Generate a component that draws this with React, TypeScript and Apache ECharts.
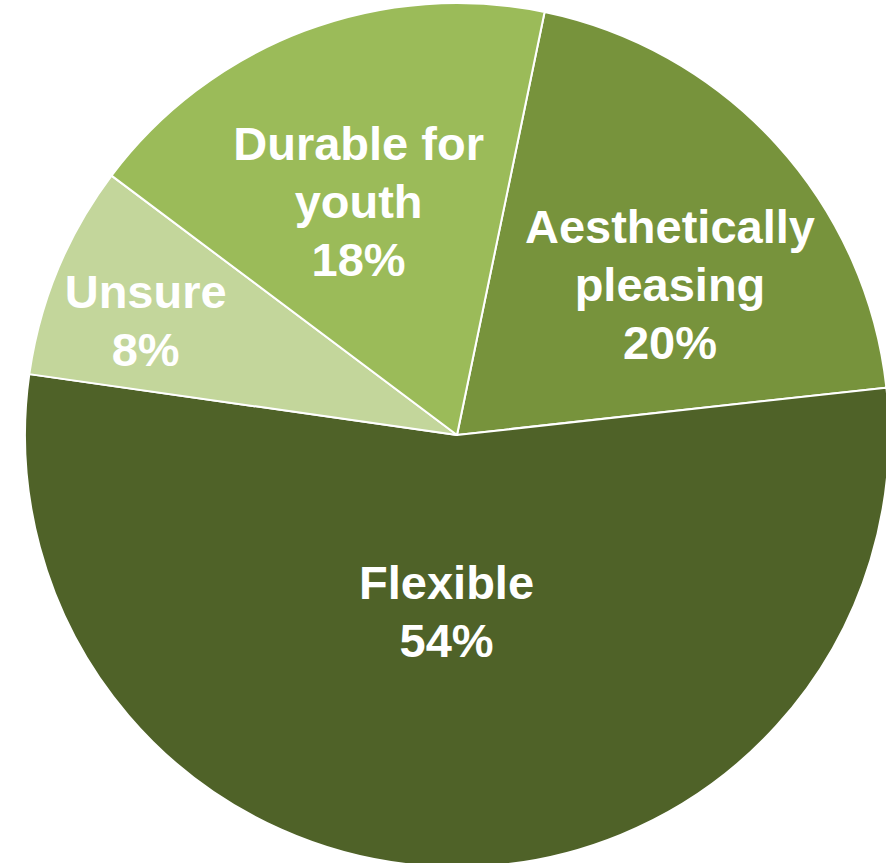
import React, { useEffect, useRef } from "react";
import * as echarts from "echarts";

const categories = ["Aesthetically\npleasing", "Flexible", "Unsure", "Durable for\nyouth"];
const values = [20, 54, 8, 18];
const colors = ["#77933C", "#4F6228", "#C3D69B", "#9BBB59"];
const labelOffsets: [number, number][] = [[51, -3], [-7, -42], [-109, -31], [-21, -29]];

export default function App() {
  const ref = useRef<HTMLDivElement>(null);
  useEffect(() => {
    if (!ref.current) return;
    const chart = echarts.init(ref.current, undefined, { renderer: "svg" });
    chart.setOption({
      animation: false,
      backgroundColor: "#ffffff",
      series: [
        {
          type: "pie",
          center: [457, 435],
          radius: [0, 432],
          startAngle: 78.3,
          clockwise: true,
          avoidLabelOverlap: false,
          itemStyle: {
            borderColor: "#ffffff",
            borderWidth: 2,
          },
          label: {
            show: true,
            position: "inside",
            formatter: "{b}\n{c}%",
            color: "#ffffff",
            fontFamily: "Liberation Sans, Arial, sans-serif",
            fontWeight: "bold",
            fontSize: 47,
            lineHeight: 58,
            align: "center",
          },
          labelLine: { show: false },
          emphasis: { disabled: true },
          data: categories.map((name, i) => ({
            name,
            value: values[i],
            itemStyle: { color: colors[i] },
            label: { offset: labelOffsets[i] },
          })),
        },
      ],
    });
    return () => chart.dispose();
  }, []);
  return (
    <div
      ref={ref}
      style={{ position: "absolute", left: 0, top: 0, width: 886, height: 863 }}
    />
  );
}
